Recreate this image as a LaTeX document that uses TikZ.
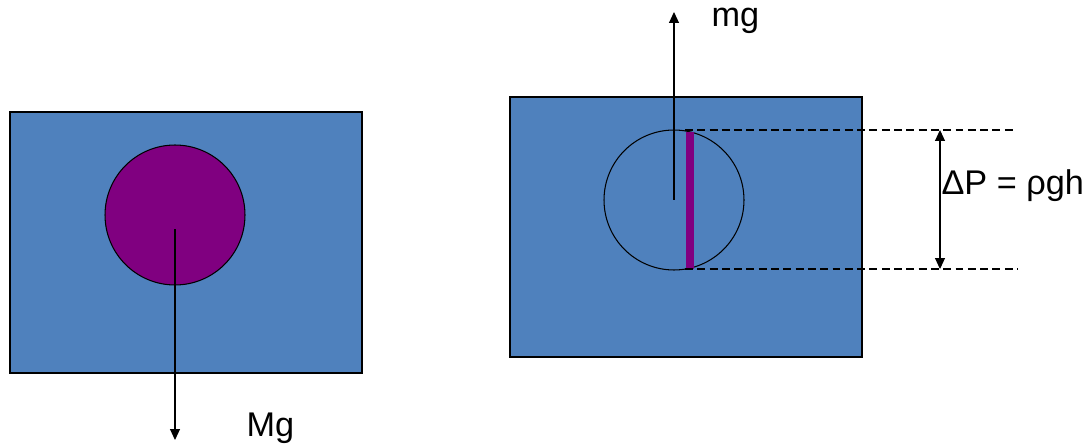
\documentclass[tikz,border=0pt]{standalone}
\usepackage{fontspec}
\setmainfont{Liberation Sans}
\usetikzlibrary{arrows.meta, positioning}
\definecolor{waterblue}{RGB}{79,129,189}
\definecolor{ballpurple}{RGB}{128,0,128}

\begin{document}
\begin{tikzpicture}[
    x=0.02cm, y=-0.02cm, line width=0.6pt,
    >={Triangle[length=2.2mm, width=2mm]},
    tank/.style={draw, fill=waterblue},
    ball/.style={draw, circle, minimum size=2.8cm, inner sep=0pt},
    force/.style={->},
    level/.style={dashed, dash pattern=on 4.5pt off 2.5pt},
    lbl/.style={font=\fontsize{19.5}{22}\selectfont, inner sep=0pt}
  ]
  \useasboundingbox (0,0) rectangle (1086,446);
  % sinking ball
  \draw[tank] (10,112) rectangle (362,373);
  \node[ball, fill=ballpurple] (ballL) at (175,215) {};
  \coordinate (weightL) at (175,229);
  \coordinate (tipL) at (175,440);
  \draw[force] (weightL) -- (tipL);
  \node[lbl, anchor=west] (Mg) at (246,428) {Mg};
  % floating ball
  \draw[tank] (510,97) rectangle (862,357);
  \node[ball] (ballR) at (674,200) {};
  \coordinate (tipR) at (674,12);
  \draw[force] (ballR.center) -- (tipR);
  \node[lbl, anchor=west] (mg) at (711,21) {mg};
  \coordinate (barT) at (690,132);
  \coordinate (barB) at (690,269);
  \draw[ballpurple, line width=4pt] (barT) -- (barB);
  \coordinate (topA) at (685,130);
  \coordinate (topB) at (1013,130);
  \coordinate (botA) at (685,269);
  \coordinate (botB) at (1018,269);
  \draw[level] (topA) -- (topB);
  \draw[level] (botA) -- (botB);
  \coordinate (dimT) at (940,130);
  \coordinate (dimB) at (940,269);
  \draw[<->] (dimT) -- (dimB);
  \node[lbl, anchor=west] (dP) at (941,186) {ΔP = ρgh};
\end{tikzpicture}
\end{document}
